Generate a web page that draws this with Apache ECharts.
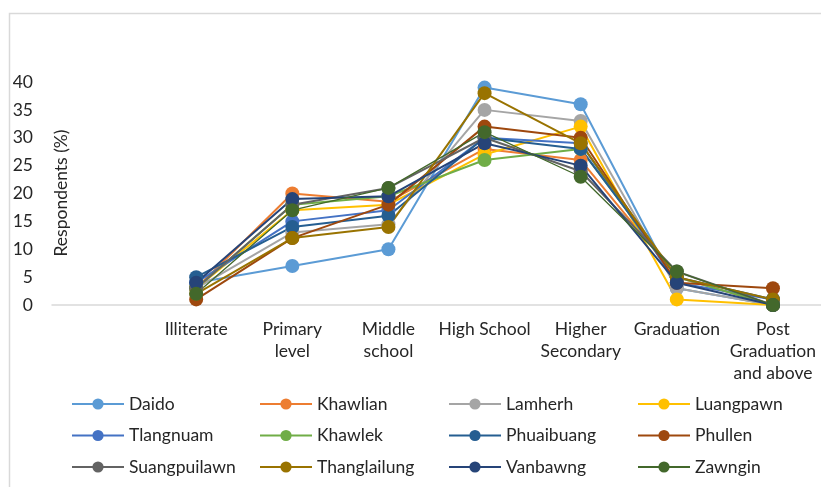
<!DOCTYPE html>
<html>
<head>
<meta charset="utf-8">
<script src="https://cdn.jsdelivr.net/npm/echarts@6/dist/echarts.min.js"></script>
<style>
  html, body { margin: 0; padding: 0; background: #fff; }
  #chart { width: 821px; height: 487px; }
</style>
</head>
<body>
<div id="chart"></div>
<script>
// Education level categories (leading blank slot keeps space before "Illiterate")
const categories = ['', 'Illiterate', 'Primary\nlevel', 'Middle\nschool', 'High School',
  'Higher\nSecondary', 'Graduation', 'Post\nGraduation\nand above'];

const yTicks = { min: 0, max: 40, interval: 5 };

// Respondents (%) per village, one value per education level
const daido        = [4, 7, 10, 39, 36, 3, 0];
const khawlian     = [3, 20, 18.5, 28, 26, 5, 0];
const lamherh      = [3, 13, 14.5, 35, 33, 3, 0];
const luangpawn    = [3, 17, 18, 27, 32, 1, 0];
const tlangnuam    = [4, 15, 17, 30, 29, 4, 1];
const khawlek      = [3, 18, 19.5, 26, 28, 5, 0];
const phuaibuang   = [5, 14, 16, 30, 28, 5, 1];
const phullen      = [1, 12, 18, 32, 30, 4, 3];
const suangpuilawn = [3, 18, 21, 30, 24, 6, 0];
const thanglailung = [2, 12, 14, 38, 29, 5, 1];
const vanbawng     = [4, 19, 19.5, 29, 25, 4, 0];
const zawngin      = [2, 17, 21, 31, 23, 6, 0];

const villages = [
  ['Daido', daido, '#5B9BD5'],
  ['Khawlian', khawlian, '#ED7D31'],
  ['Lamherh', lamherh, '#A5A5A5'],
  ['Luangpawn', luangpawn, '#FFC000'],
  ['Tlangnuam', tlangnuam, '#4472C4'],
  ['Khawlek', khawlek, '#70AD47'],
  ['Phuaibuang', phuaibuang, '#255E91'],
  ['Phullen', phullen, '#9E480E'],
  ['Suangpuilawn', suangpuilawn, '#636363'],
  ['Thanglailung', thanglailung, '#997300'],
  ['Vanbawng', vanbawng, '#264478'],
  ['Zawngin', zawngin, '#43682B']
];

const FONT = 'Lato';
const TEXT = '#262626';
const FS = 17.5;

const series = villages.map(([name, values, color]) => ({
  name,
  type: 'line',
  data: [null].concat(values),
  symbol: 'circle',
  symbolSize: 14,
  color,
  lineStyle: { width: name === 'Zawngin' ? 1.3 : 2, color },
  itemStyle: { color },
  emphasis: { disabled: true },
  connectNulls: false
}));

// Four legend columns, three rows each, filled row by row
const colLeft = [71, 259, 448, 637];
const legends = colLeft.map((left, c) => ({
  orient: 'vertical',
  left,
  top: 395,
  itemWidth: 52,
  itemHeight: 14,
  itemGap: 13.5,
  padding: 0,
  selectedMode: false,
  textStyle: { fontFamily: FONT, fontSize: FS, color: TEXT },
  data: [0, 1, 2].map(r => villages[r * 4 + c][0])
}));

const chart = echarts.init(document.getElementById('chart'));
chart.setOption({
  animation: false,
  backgroundColor: '#fff',
  graphic: [{
    type: 'rect',
    shape: { x: 9.5, y: 13.5, width: 900, height: 600 },
    style: { fill: 'none', stroke: '#D9D9D9', lineWidth: 1.5 },
    silent: true
  }, {
    type: 'text',
    x: 61, y: 193,
    rotation: Math.PI / 2,
    style: {
      text: 'Respondents (%)', fontFamily: FONT, fontSize: FS, fill: TEXT,
      align: 'center', verticalAlign: 'middle'
    },
    silent: true
  }],
  grid: { left: 52, right: 0, top: 82, bottom: 182, containLabel: false, outerBoundsMode: 'none' },
  legend: legends,
  xAxis: {
    type: 'category',
    data: categories,
    boundaryGap: true,
    axisLine: { lineStyle: { color: '#D9D9D9', width: 1.5 } },
    axisTick: { show: false },
    axisLabel: {
      interval: 0, margin: 13, fontFamily: FONT, fontSize: FS, color: TEXT, lineHeight: 22
    }
  },
  yAxis: {
    type: 'value',
    min: yTicks.min, max: yTicks.max, interval: yTicks.interval,
    axisLine: { show: false },
    axisTick: { show: false },
    splitLine: { show: false },
    axisLabel: { margin: 19, fontFamily: FONT, fontSize: FS, color: TEXT }
  },
  series
});
</script>
</body>
</html>
